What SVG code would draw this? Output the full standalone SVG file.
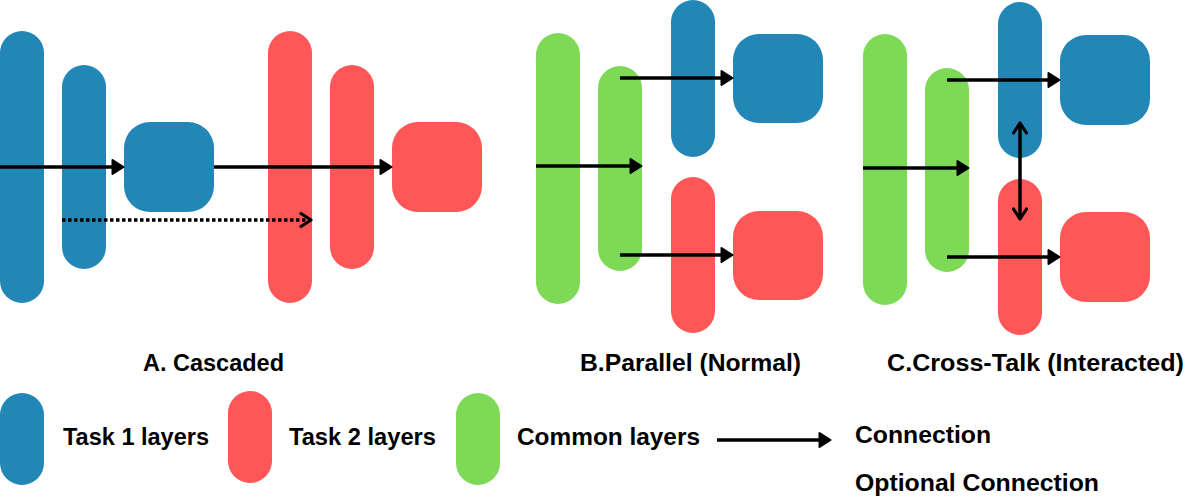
<svg xmlns="http://www.w3.org/2000/svg" width="1186" height="503" viewBox="0 0 1186 503">
<style>
.blue{fill:#2286B6}
.red{fill:#FF5757}
.green{fill:#7ED957}
.lbl{font-family:"Liberation Sans",Arial,sans-serif;font-weight:bold;font-size:23px;fill:#000}
.conn{stroke:#000;stroke-width:3.5;fill:none}
.dot{stroke:#000;stroke-width:3.5;fill:none;stroke-dasharray:3.5 2.5}
</style>
<defs>
<marker id="head" markerUnits="userSpaceOnUse" viewBox="0 0 14 17" markerWidth="14" markerHeight="17" refX="5" refY="8.5" orient="auto">
<path d="M1.5,1.5 L12.5,8.5 L1.5,15.5 Z" fill="#000" stroke="#000" stroke-width="2" stroke-linejoin="round"/>
</marker>
<marker id="chev" markerUnits="userSpaceOnUse" viewBox="0 0 14 16" markerWidth="14" markerHeight="16" refX="12" refY="8" orient="auto-start-reverse">
<path d="M2,1.5 L12,8 L2,14.5" fill="none" stroke="#000" stroke-width="3.2" stroke-linecap="round" stroke-linejoin="round"/>
</marker>
</defs>
<rect width="1186" height="503" fill="#fff"/>

<!-- A. Cascaded -->
<g id="a-task1-layer1"><rect class="blue" x="0" y="31" width="44" height="272" rx="22"/></g>
<g id="a-task1-layer2"><rect class="blue" x="62" y="65" width="44" height="204" rx="22"/></g>
<g id="a-task1-out"><rect class="blue" x="124" y="122" width="90" height="90" rx="26"/></g>
<g id="a-task2-layer1"><rect class="red" x="268" y="31" width="44" height="272" rx="22"/></g>
<g id="a-task2-layer2"><rect class="red" x="330" y="65" width="44" height="204" rx="22"/></g>
<g id="a-task2-out"><rect class="red" x="392" y="122" width="90" height="90" rx="26"/></g>

<!-- B. Parallel -->
<g id="b-common1"><rect class="green" x="536" y="33" width="44" height="271" rx="22"/></g>
<g id="b-common2"><rect class="green" x="598" y="66" width="44" height="205" rx="22"/></g>
<g id="b-task1-layer"><rect class="blue" x="671" y="0" width="44" height="157" rx="22"/></g>
<g id="b-task1-out"><rect class="blue" x="733" y="34" width="90" height="89" rx="26"/></g>
<g id="b-task2-layer"><rect class="red" x="671" y="177" width="44" height="156" rx="22"/></g>
<g id="b-task2-out"><rect class="red" x="733" y="211" width="90" height="89" rx="26"/></g>

<!-- C. Cross-Talk -->
<g id="c-common1"><rect class="green" x="863" y="34" width="44" height="271" rx="22"/></g>
<g id="c-common2"><rect class="green" x="925" y="68" width="44" height="204" rx="22"/></g>
<g id="c-task1-layer"><rect class="blue" x="998" y="2" width="44" height="156" rx="22"/></g>
<g id="c-task1-out"><rect class="blue" x="1060" y="35" width="90" height="90" rx="26"/></g>
<g id="c-task2-layer"><rect class="red" x="998" y="179" width="44" height="156" rx="22"/></g>
<g id="c-task2-out"><rect class="red" x="1060" y="212" width="90" height="90" rx="26"/></g>

<!-- Legend swatches -->
<g id="legend-task1"><rect class="blue" x="0" y="393" width="44" height="92" rx="22"/><text class="lbl" x="63" y="445" textLength="146" lengthAdjust="spacingAndGlyphs">Task 1 layers</text></g>
<g id="legend-task2"><rect class="red" x="228" y="391" width="44" height="92" rx="22"/><text class="lbl" x="289" y="445" textLength="147" lengthAdjust="spacingAndGlyphs">Task 2 layers</text></g>
<g id="legend-common"><rect class="green" x="456" y="393" width="44" height="92" rx="22"/><text class="lbl" x="517" y="445" textLength="183" lengthAdjust="spacingAndGlyphs">Common layers</text></g>
<g id="legend-connection"><text class="lbl" x="855" y="443" textLength="136" lengthAdjust="spacingAndGlyphs">Connection</text></g>
<g id="legend-optional"><text class="lbl" x="855" y="491" textLength="244" lengthAdjust="spacingAndGlyphs">Optional Connection</text></g>

<!-- Titles -->
<g id="titles">
<text class="lbl" x="143" y="371" textLength="141" lengthAdjust="spacingAndGlyphs">A. Cascaded</text>
<text class="lbl" x="580" y="371" textLength="221" lengthAdjust="spacingAndGlyphs">B.Parallel (Normal)</text>
<text class="lbl" x="887" y="371" textLength="297" lengthAdjust="spacingAndGlyphs">C.Cross-Talk (Interacted)</text>
</g>

<!-- Connectors -->
<g id="connectors">
<line class="conn" x1="0" y1="167" x2="116" y2="167" marker-end="url(#head)"/>
<line class="conn" x1="214" y1="167" x2="384" y2="167" marker-end="url(#head)"/>
<line class="dot" x1="62" y1="220" x2="311" y2="220" marker-end="url(#chev)"/>

<line class="conn" x1="620" y1="78" x2="725" y2="78" marker-end="url(#head)"/>
<line class="conn" x1="536" y1="166" x2="634" y2="166" marker-end="url(#head)"/>
<line class="conn" x1="620" y1="255" x2="725" y2="255" marker-end="url(#head)"/>

<line class="conn" x1="947" y1="80" x2="1052" y2="80" marker-end="url(#head)"/>
<line class="conn" x1="863" y1="168" x2="961" y2="168" marker-end="url(#head)"/>
<line class="conn" x1="947" y1="257" x2="1052" y2="257" marker-end="url(#head)"/>
<line class="conn" x1="1020" y1="123" x2="1020" y2="219" marker-start="url(#chev)" marker-end="url(#chev)"/>

<line class="conn" x1="717" y1="440" x2="823" y2="440" marker-end="url(#head)"/>
</g>
</svg>
